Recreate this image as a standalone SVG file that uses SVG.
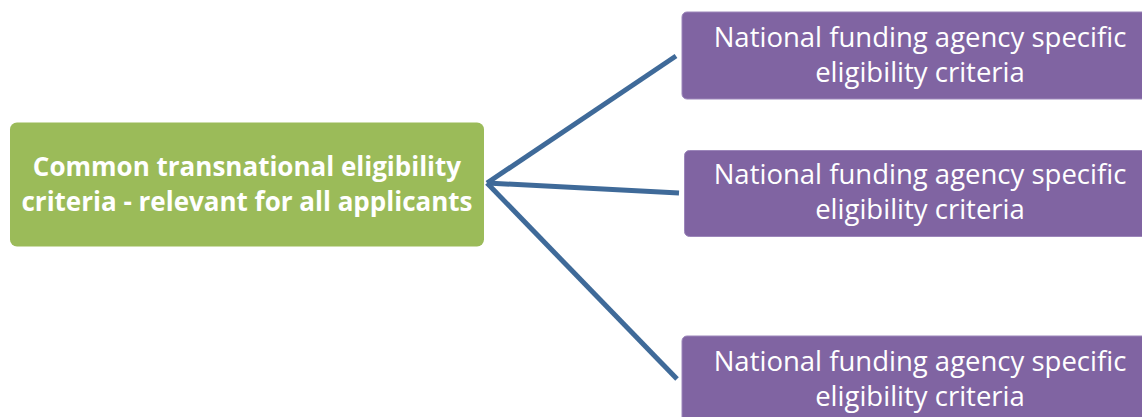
<svg xmlns="http://www.w3.org/2000/svg" width="1142" height="417" viewBox="0 0 1142 417">
<style>
.green{fill:#9BBB59;}
.purple{fill:#8064A2;stroke:#9C86BA;stroke-width:1;}
.tw{fill:#fff;font-family:"Open Sans","Noto Sans",sans-serif;text-anchor:middle;}
.tb{font-weight:bold;font-size:26px;}
.tn{font-size:27.5px;}
.conn{stroke:#3F6A99;stroke-width:5;fill:none;stroke-linecap:butt;}
</style>
<rect width="1142" height="417" fill="#fff"/>
<g id="connectors">
<line class="conn" x1="487" y1="183" x2="676" y2="56"/>
<line class="conn" x1="487" y1="183" x2="679" y2="193"/>
<line class="conn" x1="487" y1="183" x2="677" y2="379"/>
</g>
<g id="node-common">
<rect class="green" x="10" y="122.5" width="474" height="124" rx="7"/>
<text class="tw tb" x="247" y="176">Common transnational eligibility</text>
<text class="tw tb" x="247" y="211">criteria - relevant for all applicants</text>
</g>
<g id="node-national-1">
<rect class="purple" x="682" y="12" width="470" height="87" rx="5"/>
<text class="tw tn" x="920" y="47">National funding agency specific</text>
<text class="tw tn" x="920" y="82">eligibility criteria</text>
</g>
<g id="node-national-2">
<rect class="purple" x="684.5" y="150.5" width="470" height="86" rx="5"/>
<text class="tw tn" x="920" y="184">National funding agency specific</text>
<text class="tw tn" x="920" y="219">eligibility criteria</text>
</g>
<g id="node-national-3">
<rect class="purple" x="682" y="336" width="470" height="100" rx="5"/>
<text class="tw tn" x="920" y="371">National funding agency specific</text>
<text class="tw tn" x="920" y="406">eligibility criteria</text>
</g>
</svg>
